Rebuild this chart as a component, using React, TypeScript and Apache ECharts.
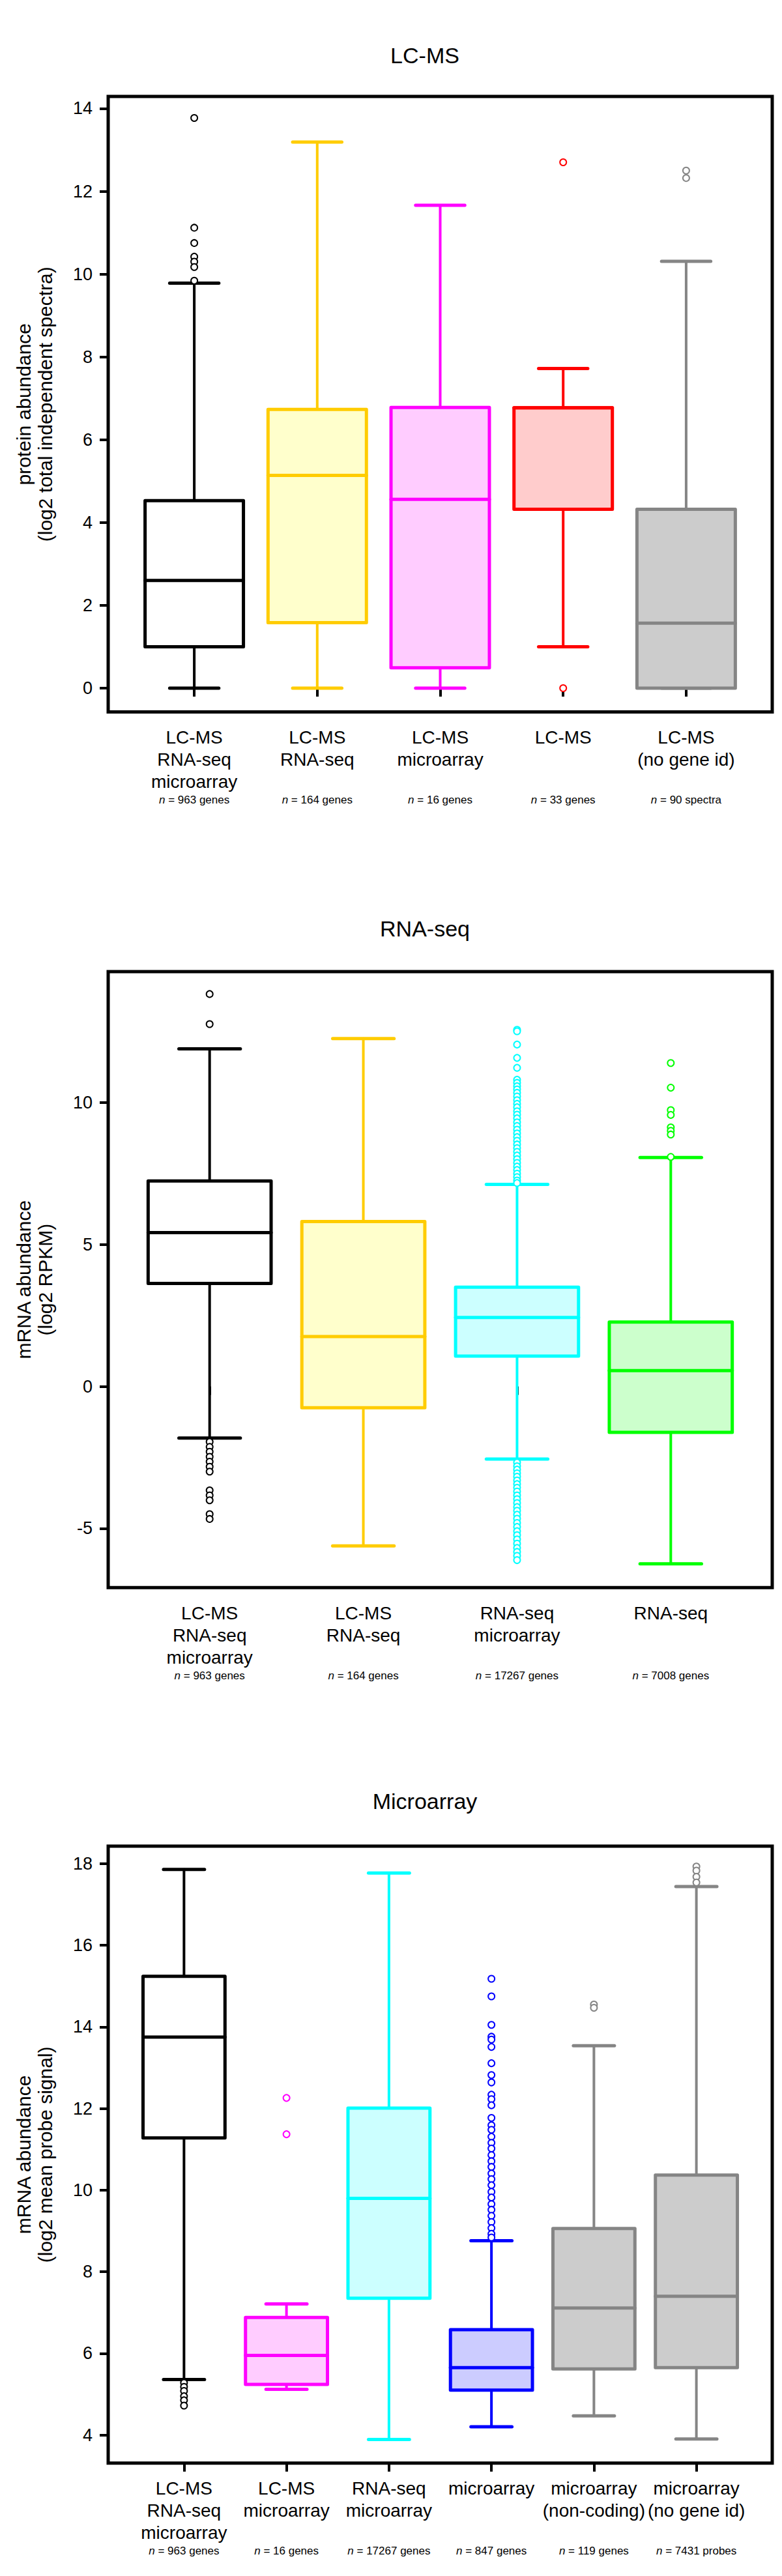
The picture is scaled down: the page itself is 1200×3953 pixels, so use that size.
import React, { useEffect, useRef } from 'react';
import * as echarts from 'echarts';

const FONT = "'Liberation Sans', Arial, Helvetica, sans-serif";

// ---------------- Panel 1: LC-MS ----------------
const lcmsTitle = 'LC-MS';
const lcmsYName = 'protein abundance\n(log2 total independent spectra)';
const lcmsCategories = ['LC-MS\nRNA-seq\nmicroarray', 'LC-MS\nRNA-seq', 'LC-MS\nmicroarray', 'LC-MS', 'LC-MS\n(no gene id)'];
const lcmsCounts = ['963 genes', '164 genes', '16 genes', '33 genes', '90 spectra'];
const lcmsColors = ['#000000', '#FFCC00', '#FF00FF', '#FF0000', '#858585'];
const lcmsFills = ['#FFFFFF', '#FFFFCC', '#FFCCFF', '#FFCCCC', '#CCCCCC'];
const lcmsLow = [0, 0, 0, 1.0, 0];
const lcmsQ1 = [1.0, 1.58, 0.49, 4.32, 0];
const lcmsMedian = [2.6, 5.14, 4.56, 6.77, 1.57];
const lcmsQ3 = [4.53, 6.73, 6.78, 6.77, 4.32];
const lcmsHigh = [9.78, 13.19, 11.66, 7.72, 10.31];
const lcmsOutliers = [
  [13.77, 11.12, 10.75, 10.42, 10.3, 10.17, 9.84],
  [],
  [],
  [12.7, 0],
  [12.5, 12.32],
];
const lcmsTicks = [0, 2, 4, 6, 8, 10, 12, 14];

// ---------------- Panel 2: RNA-seq ----------------
const rnaTitle = 'RNA-seq';
const rnaYName = 'mRNA abundance\n(log2 RPKM)';
const rnaCategories = ['LC-MS\nRNA-seq\nmicroarray', 'LC-MS\nRNA-seq', 'RNA-seq\nmicroarray', 'RNA-seq'];
const rnaCounts = ['963 genes', '164 genes', '17267 genes', '7008 genes'];
const rnaColors = ['#000000', '#FFCC00', '#00FFFF', '#00FF00'];
const rnaFills = ['#FFFFFF', '#FFFFCC', '#CCFFFF', '#CCFFCC'];
const rnaLow = [-1.82, -5.62, -2.56, -6.25];
const rnaQ1 = [3.63, -0.75, 1.07, -1.62];
const rnaMedian = [5.42, 1.76, 2.43, 0.56];
const rnaQ3 = [7.24, 5.81, 3.5, 2.27];
const rnaHigh = [11.9, 12.26, 7.12, 8.07];
const rnaOutliers = [
  [13.83, 12.77, -1.95, -2.13, -2.3, -2.48, -2.65, -2.83, -3.0, -3.66, -3.84, -4.01, -4.5, -4.67],
  [],
  [12.57, 12.52, 12.05, 11.58, 11.23, 10.81, 10.7, 10.58, 10.47, 10.35, 10.22, 10.09, 9.96, 9.84, 9.7, 9.58,
    9.45, 9.31, 9.18, 9.05, 8.92, 8.79, 8.66, 8.53, 8.4, 8.27, 8.14, 8.01, 7.88, 7.75, 7.63, 7.5, 7.38, 7.26, 7.17,
    -2.68, -2.81, -2.93, -3.06, -3.18, -3.31, -3.44, -3.57, -3.7, -3.84, -3.97, -4.11, -4.25, -4.38, -4.52,
    -4.66, -4.81, -4.95, -5.1, -5.24, -5.39, -5.54, -5.69, -5.83, -5.97, -6.12],
  [11.4, 10.53, 9.74, 9.57, 9.13, 9.01, 8.88, 8.09],
];
const rnaTicks = [-5, 0, 5, 10];

// ---------------- Panel 3: Microarray ----------------
const maTitle = 'Microarray';
const maYName = 'mRNA abundance\n(log2 mean probe signal)';
const maCategories = ['LC-MS\nRNA-seq\nmicroarray', 'LC-MS\nmicroarray', 'RNA-seq\nmicroarray', 'microarray', 'microarray\n(non-coding)', 'microarray\n(no gene id)'];
const maCounts = ['963 genes', '16 genes', '17267 genes', '847 genes', '119 genes', '7431 probes'];
const maColors = ['#000000', '#FF00FF', '#00FFFF', '#0000FF', '#858585', '#858585'];
const maFills = ['#FFFFFF', '#FFCCFF', '#CCFFFF', '#CCCCFF', '#CCCCCC', '#CCCCCC'];
const maLow = [5.36, 5.12, 3.89, 4.2, 4.47, 3.9];
const maQ1 = [11.28, 5.24, 7.35, 5.1, 5.62, 5.65];
const maMedian = [13.75, 5.95, 9.8, 5.65, 7.11, 7.4];
const maQ3 = [15.24, 6.88, 12.01, 6.58, 9.06, 10.37];
const maHigh = [17.86, 7.21, 17.77, 8.76, 13.54, 17.44];
const maOutliers = [
  [5.28, 5.18, 5.08, 4.95, 4.85, 4.72],
  [12.26, 11.37],
  [],
  [15.18, 14.75, 14.05, 13.76, 13.69, 13.51, 13.11, 12.82, 12.64, 12.34, 12.23, 12.08, 11.77, 11.59, 11.48,
    11.31, 11.16, 11.02, 10.86, 10.71, 10.57, 10.41, 10.27, 10.12, 9.96, 9.82, 9.66, 9.52, 9.37, 9.22, 9.07, 8.93, 8.84],
  [14.55, 14.47],
  [17.93, 17.83, 17.68, 17.54],
];
const maTicks = [4, 6, 8, 10, 12, 14, 16, 18];

type Panel = {
  title: string; yName: string; cats: string[]; counts: string[];
  colors: string[]; fills: string[];
  low: number[]; q1: number[]; med: number[]; q3: number[]; high: number[];
  outliers: number[][]; ticks: number[];
  yMin: number; yMax: number; top: number; height: number; titleY: number;
};

const panels: Panel[] = [
  {
    title: lcmsTitle, yName: lcmsYName, cats: lcmsCategories, counts: lcmsCounts,
    colors: lcmsColors, fills: lcmsFills, low: lcmsLow, q1: lcmsQ1, med: lcmsMedian, q3: lcmsQ3, high: lcmsHigh,
    outliers: lcmsOutliers, ticks: lcmsTicks, yMin: -0.575, yMax: 14.29, top: 148, height: 944.5, titleY: 85,
  },
  {
    title: rnaTitle, yName: rnaYName, cats: rnaCategories, counts: rnaCounts,
    colors: rnaColors, fills: rnaFills, low: rnaLow, q1: rnaQ1, med: rnaMedian, q3: rnaQ3, high: rnaHigh,
    outliers: rnaOutliers, ticks: rnaTicks, yMin: -7.09, yMax: 14.62, top: 1491, height: 945.3, titleY: 1425,
  },
  {
    title: maTitle, yName: maYName, cats: maCategories, counts: maCounts,
    colors: maColors, fills: maFills, low: maLow, q1: maQ1, med: maMedian, q3: maQ3, high: maHigh,
    outliers: maOutliers, ticks: maTicks, yMin: 3.31, yMax: 18.43, top: 2833, height: 946.8, titleY: 2764,
  },
];

const GRID_LEFT = 166;
const GRID_WIDTH = 1019;
const BOX_HALF = 0.4;
const STAPLE_HALF = 0.2;

function makeRender(colors: string[], fills: string[]) {
  return (params: any, api: any) => {
    const i = params.dataIndex;
    const x = api.value(0);
    const pLo = api.coord([x, api.value(1)]);
    const yQ1 = api.coord([x, api.value(2)])[1];
    const yMed = api.coord([x, api.value(3)])[1];
    const yQ3 = api.coord([x, api.value(4)])[1];
    const yHi = api.coord([x, api.value(5)])[1];
    const cx = pLo[0];
    const yLo = pLo[1];
    const xbL = api.coord([x - BOX_HALF, 0])[0];
    const xbR = api.coord([x + BOX_HALF, 0])[0];
    const xsL = api.coord([x - STAPLE_HALF, 0])[0];
    const xsR = api.coord([x + STAPLE_HALF, 0])[0];
    const c = colors[i];
    const f = fills[i];
    const ls = (lw: number) => ({ stroke: c, lineWidth: lw, lineCap: 'round' });
    return {
      type: 'group',
      children: [
        { type: 'line', shape: { x1: cx, y1: yQ3, x2: cx, y2: yHi }, style: ls(4) },
        { type: 'line', shape: { x1: cx, y1: yQ1, x2: cx, y2: yLo }, style: ls(4) },
        { type: 'line', shape: { x1: xsL, y1: yHi, x2: xsR, y2: yHi }, style: ls(5) },
        { type: 'line', shape: { x1: xsL, y1: yLo, x2: xsR, y2: yLo }, style: ls(5) },
        {
          type: 'rect',
          shape: { x: xbL, y: yQ3, width: xbR - xbL, height: yQ1 - yQ3 },
          style: { fill: f, stroke: c, lineWidth: 5, lineJoin: 'round' },
        },
        { type: 'line', shape: { x1: xbL, y1: yMed, x2: xbR, y2: yMed }, style: ls(5) },
      ],
    };
  };
}

function buildOption() {
  const grid: any[] = [];
  const xAxis: any[] = [];
  const yAxis: any[] = [];
  const series: any[] = [];
  const graphic: any[] = [];

  panels.forEach((p, gi) => {
    const n = p.cats.length;
    const pad = 0.04 * n;
    const xMin = 0.5 - pad;
    const xMax = n + 0.5 + pad;
    const positions = p.cats.map((_, i) => i + 1);

    grid.push({
      left: GRID_LEFT, width: GRID_WIDTH, top: p.top, height: p.height,
      show: true, borderWidth: 5, borderColor: '#000', backgroundColor: 'rgba(0,0,0,0)',
      containLabel: false, outerBoundsMode: 'none',
    });

    xAxis.push({
      type: 'value', gridIndex: gi, position: 'bottom', offset: 0, min: xMin, max: xMax,
      axisLine: { show: false }, splitLine: { show: false },
      axisTick: { show: true, customValues: positions, length: 13, lineStyle: { color: '#000', width: 4 } },
      axisLabel: {
        show: true, customValues: positions,
        formatter: (v: number) => p.cats[Math.round(v) - 1] ?? '',
        fontSize: 28, lineHeight: 34, color: '#000', margin: 22, fontFamily: FONT,
      },
    });
    xAxis.push({
      type: 'value', gridIndex: gi, position: 'bottom', offset: 0, min: xMin, max: xMax,
      axisLine: { show: false }, splitLine: { show: false }, axisTick: { show: false },
      axisLabel: {
        show: true, customValues: positions,
        formatter: (v: number) => `{i|n} = ${p.counts[Math.round(v) - 1] ?? ''}`,
        fontSize: 17, lineHeight: 18, color: '#000', margin: 126, fontFamily: FONT,
        rich: { i: { fontStyle: 'italic', fontSize: 17, lineHeight: 18, color: '#000', fontFamily: FONT } },
      },
    });

    yAxis.push({
      type: 'value', gridIndex: gi, position: 'left', min: p.yMin, max: p.yMax,
      axisLine: { show: false }, splitLine: { show: false },
      axisTick: { show: true, customValues: p.ticks, length: 13, lineStyle: { color: '#000', width: 4 } },
      axisLabel: {
        show: true, customValues: p.ticks, fontSize: 27, color: '#000', margin: 24, fontFamily: FONT,
      },
      name: p.yName, nameLocation: 'middle', nameGap: 80,
      nameTextStyle: { fontSize: 30, lineHeight: 33, color: '#000', fontFamily: FONT },
    });

    series.push({
      type: 'custom',
      xAxisIndex: gi * 2, yAxisIndex: gi,
      renderItem: makeRender(p.colors, p.fills),
      dimensions: ['x', 'low', 'q1', 'median', 'q3', 'high'],
      encode: { x: 0, y: [1, 2, 3, 4, 5] },
      data: p.cats.map((_, i) => [i + 1, p.low[i], p.q1[i], p.med[i], p.q3[i], p.high[i]]),
      silent: true,
      clip: false,
      z: 2,
    });

    p.outliers.forEach((vals, i) => {
      if (!vals.length) return;
      series.push({
        type: 'scatter',
        xAxisIndex: gi * 2, yAxisIndex: gi,
        symbol: 'emptyCircle', symbolSize: 10,
        itemStyle: { color: p.colors[i], borderColor: p.colors[i], borderWidth: 2.6, opacity: 1 },
        data: vals.map((v) => [i + 1, v]),
        silent: true,
        z: 3,
      });
    });

    graphic.push({
      type: 'text', x: 652, y: p.titleY,
      style: { text: p.title, fontSize: 34, fontFamily: FONT, fill: '#000', align: 'center', verticalAlign: 'middle' },
    });
  });

  return {
    animation: false,
    backgroundColor: '#ffffff',
    textStyle: { fontFamily: FONT },
    grid, xAxis, yAxis, series, graphic,
  };
}

export default function App() {
  const ref = useRef<HTMLDivElement>(null);
  useEffect(() => {
    document.body.style.margin = '0';
    if (!ref.current) return;
    const chart = echarts.init(ref.current, null, { renderer: 'svg' });
    chart.setOption(buildOption() as any);
    return () => chart.dispose();
  }, []);
  return <div ref={ref} style={{ width: 1200, height: 3953 }} />;
}
